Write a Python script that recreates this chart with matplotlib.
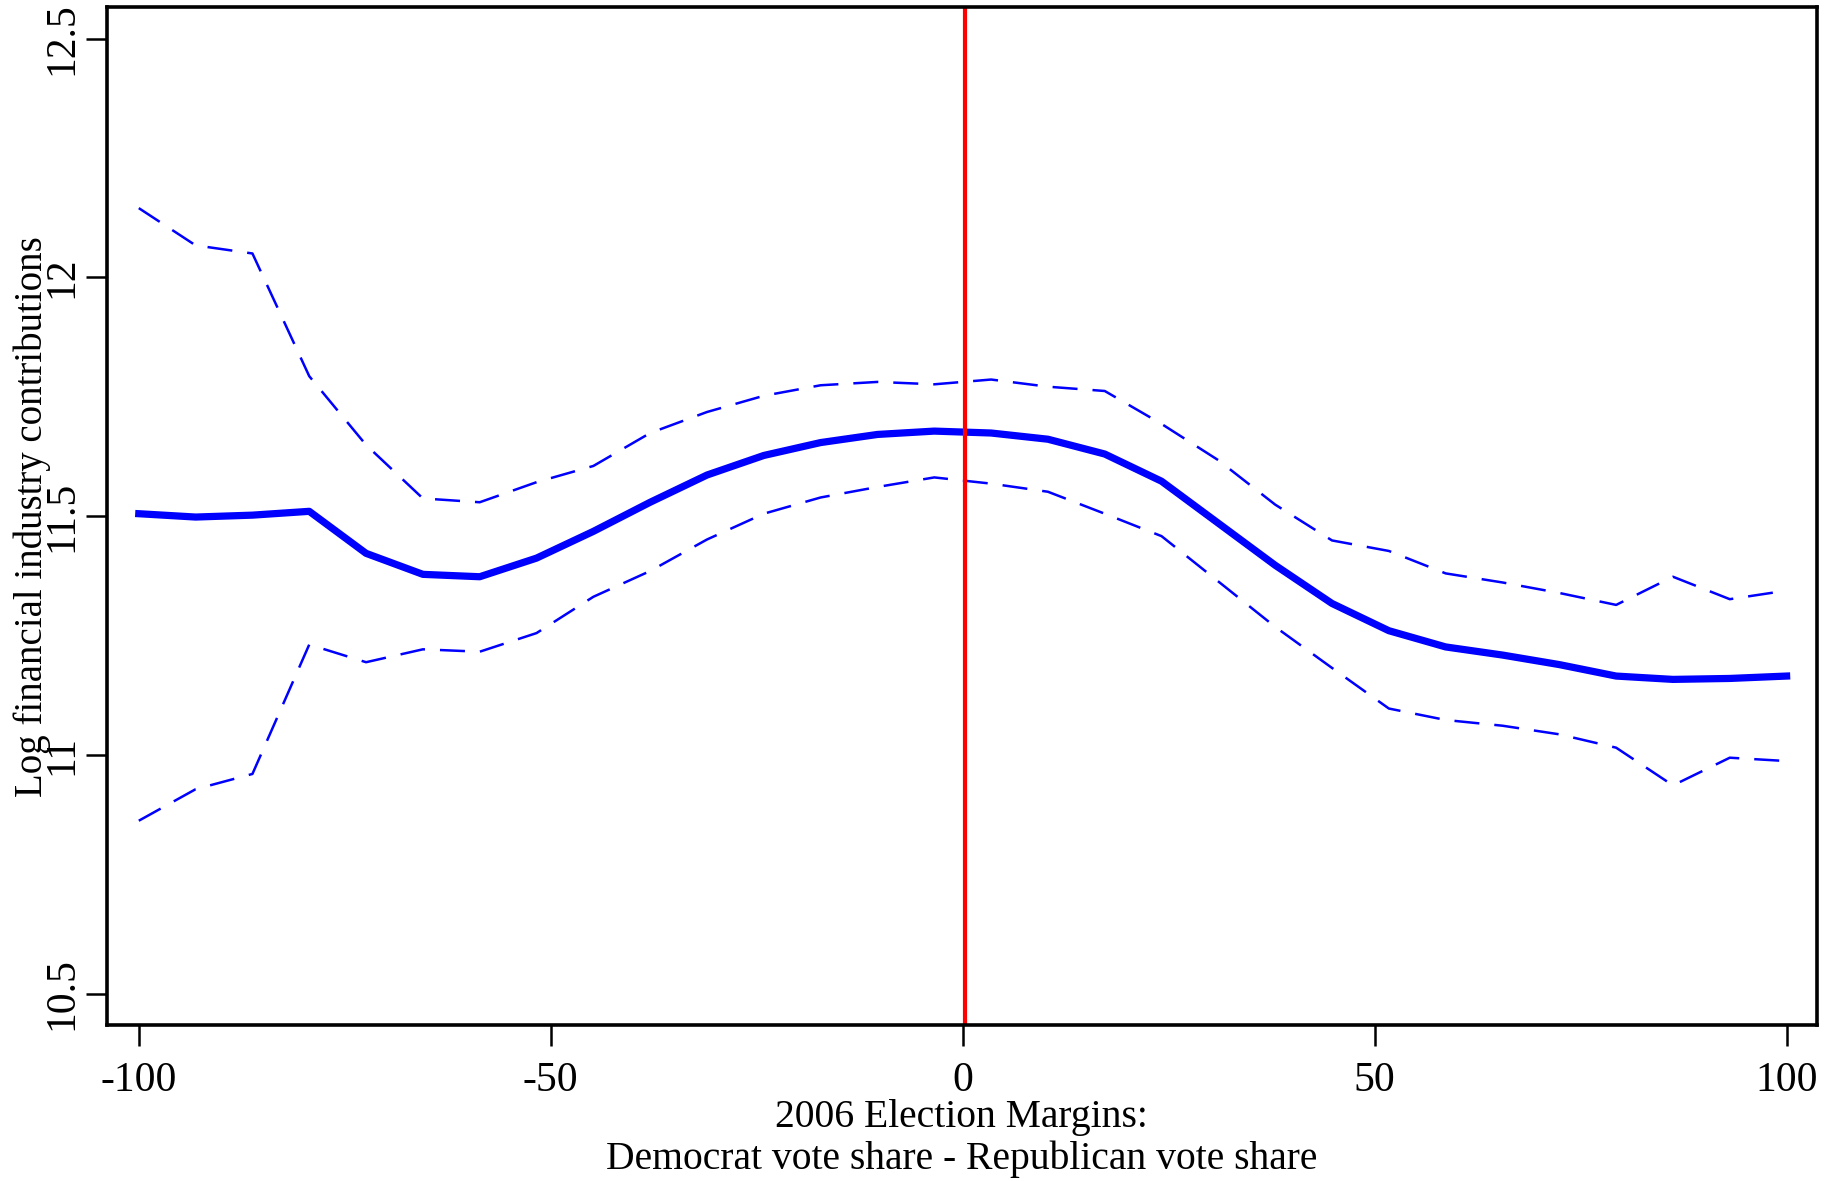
import numpy as np
import matplotlib
matplotlib.use("Agg")
import matplotlib.pyplot as plt

# 30 evaluation points, evenly spaced over the margin range
margin = np.linspace(-100, 100, 30)

fit = [11.505, 11.498, 11.502, 11.510, 11.422, 11.378, 11.373, 11.412, 11.468, 11.529,
       11.586, 11.627, 11.654, 11.671, 11.678, 11.674, 11.661, 11.630, 11.573, 11.485,
       11.397, 11.317, 11.260, 11.226, 11.209, 11.189, 11.165, 11.158, 11.160, 11.165]

upper = [12.145, 12.067, 12.050, 11.793, 11.649, 11.537, 11.529, 11.571, 11.605, 11.674,
         11.718, 11.752, 11.774, 11.781, 11.776, 11.786, 11.771, 11.762, 11.693, 11.617,
         11.524, 11.449, 11.427, 11.380, 11.361, 11.339, 11.314, 11.373, 11.326, 11.344]

lower = [10.862, 10.928, 10.960, 11.231, 11.194, 11.221, 11.216, 11.255, 11.331, 11.385,
         11.451, 11.505, 11.539, 11.561, 11.581, 11.568, 11.551, 11.505, 11.458, 11.363,
         11.268, 11.182, 11.097, 11.073, 11.061, 11.043, 11.015, 10.936, 10.994, 10.987]

xticks = [-100, -50, 0, 50, 100]
yticks = [10.5, 11, 11.5, 12, 12.5]
ytick_labels = ["10.5", "11", "11.5", "12", "12.5"]

plt.rcParams['font.family'] = ['Liberation Serif', 'DejaVu Serif']

fig = plt.figure(figsize=(18.31, 11.81), dpi=100)
ax = fig.add_axes([0.0587, 0.132, 0.9337, 0.862])

ax.plot(margin, upper, color="blue", lw=1.8, dashes=(10, 6))
ax.plot(margin, lower, color="blue", lw=1.8, dashes=(10, 6))
ax.plot(margin, fit, color="blue", lw=5.2)
ax.axvline(0.3, color="red", lw=3)

ax.set_xlim(-103.8, 103.7)
ax.set_ylim(10.434, 12.566)

ax.set_xticks(xticks)
ax.set_xticklabels([str(t) for t in xticks])
ax.set_yticks(yticks)
ax.set_yticklabels(ytick_labels, rotation=90, va="center")

ax.tick_params(axis="both", direction="out", length=15, width=1.8, labelsize=30)
ax.tick_params(axis="x", pad=11)
ax.tick_params(axis="y", pad=4)
for s in ax.spines.values():
    s.set_linewidth(2.6)

fig.text(32 / 1831, 0.5625, "Log financial industry contributions",
         rotation=90, ha="center", va="center", fontsize=28)
fig.text(0.5253, 0.0538, "2006 Election Margins:",
         ha="center", va="center", fontsize=28.5)
fig.text(0.5253, 0.0182, "Democrat vote share - Republican vote share",
         ha="center", va="center", fontsize=28.5)

fig.savefig("out.png", dpi=100)
